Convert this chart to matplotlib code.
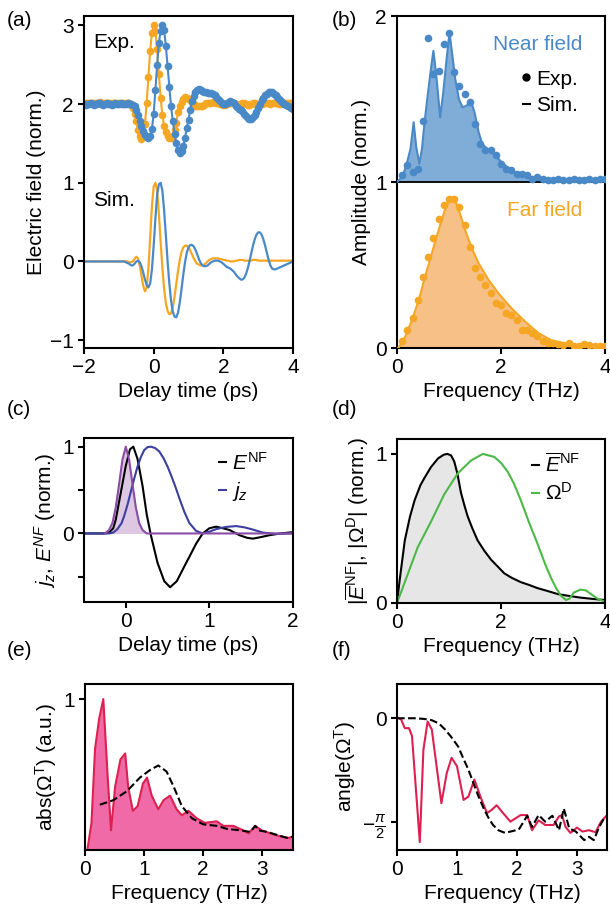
import matplotlib
matplotlib.use('Agg')
import matplotlib.pyplot as plt
import numpy as np
from matplotlib.lines import Line2D

plt.rcParams['font.family'] = ['Liberation Sans', 'DejaVu Sans']
plt.rcParams['font.size'] = 15
plt.rcParams['mathtext.fontset'] = 'custom'
plt.rcParams['mathtext.rm'] = 'Liberation Sans'
plt.rcParams['mathtext.it'] = 'Liberation Sans:italic'
plt.rcParams['axes.linewidth'] = 1.5
plt.rcParams['xtick.major.width'] = 1.5
plt.rcParams['ytick.major.width'] = 1.5
plt.rcParams['xtick.major.size'] = 4
plt.rcParams['ytick.major.size'] = 4
plt.rcParams['axes.labelpad'] = 3

ORANGE = '#f5a623'
BLUE = '#4a89c8'

# (a) time traces, 0.05 ps grid
t_a = np.round(np.arange(-2.0, 4.0001, 0.05), 2)
exp_far = [2.02, 2.01, 2.02, 2.02, 2.01, 2.02, 2.01, 2.02, 2.02, 2.03,
           2.02, 2.01, 2.02, 2.02, 2.01, 2.02, 2.02, 2.01, 2.02, 2.02,
           2.01, 2.02, 2.01, 2.02, 2.02, 2.01, 2.01, 1.99, 1.95, 1.88,
           1.78, 1.67, 1.59, 1.56, 1.60, 1.75, 2.02, 2.35, 2.68, 2.90,
           3.00, 2.93, 2.70, 2.38, 2.08, 1.86, 1.72, 1.64, 1.60, 1.57,
           1.57, 1.60, 1.67, 1.76, 1.90, 1.97, 2.03, 2.07, 2.09, 2.08,
           2.07, 2.05, 2.02, 2.00, 1.98, 1.98, 1.97, 1.98, 1.98, 1.99,
           2.01, 2.02, 2.02, 2.02, 2.03, 2.03, 2.02, 2.01, 2.00, 2.00,
           1.99, 1.99, 2.00, 2.01, 2.01, 2.02, 2.01, 2.00, 1.99, 1.99,
           2.00, 2.01, 2.01, 2.00, 1.99, 1.99, 2.00, 2.01, 2.01, 2.00,
           1.99, 1.99, 2.00, 2.01, 2.02, 2.02, 2.01, 2.00, 2.01, 2.02,
           2.02, 2.01, 2.00, 2.00, 2.01, 2.02, 2.02, 2.01, 2.01, 2.02,
           2.02]
exp_near = [2.00, 1.99, 2.00, 2.00, 2.01, 2.00, 1.99, 2.00, 2.01, 2.01,
            2.00, 1.99, 2.00, 2.01, 2.00, 2.00, 1.99, 2.00, 2.01, 2.00,
            2.00, 2.01, 2.00, 2.00, 2.00, 2.01, 2.00, 2.00, 1.99, 1.97,
            1.93, 1.86, 1.79, 1.72, 1.66, 1.61, 1.58, 1.57, 1.59, 1.68,
            1.88, 2.18, 2.50, 2.78, 2.93, 3.00, 2.94, 2.74, 2.48, 2.22,
            1.97, 1.78, 1.62, 1.50, 1.42, 1.38, 1.40, 1.47, 1.57, 1.70,
            1.80, 1.93, 2.04, 2.10, 2.15, 2.18, 2.19, 2.18, 2.17, 2.16,
            2.15, 2.14, 2.14, 2.14, 2.13, 2.11, 2.09, 2.07, 2.04, 2.02,
            2.00, 2.00, 2.02, 2.03, 2.04, 2.03, 2.01, 1.98, 1.96, 1.94,
            1.93, 1.91, 1.88, 1.85, 1.82, 1.81, 1.81, 1.83, 1.86, 1.90,
            1.95, 2.00, 2.05, 2.08, 2.11, 2.13, 2.15, 2.15, 2.15, 2.13,
            2.11, 2.09, 2.06, 2.04, 2.02, 2.00, 1.99, 1.97, 1.96, 1.95,
            1.94]
sim_far = [0.0] * 20 + [
    0.0, 0.0, 0.0, 0.0, 0.0, 0.0, -0.01, -0.01, 0.0, 0.03,
    0.06, 0.04, -0.05, -0.18, -0.31, -0.38, -0.33, -0.08, 0.30, 0.70,
    0.95, 1.00, 0.90, 0.60, 0.25, -0.08, -0.35, -0.53, -0.63, -0.67,
    -0.66, -0.58, -0.45, -0.28, -0.12, 0.02, 0.12, 0.18, 0.20, 0.20,
    0.18, 0.14, 0.09, 0.04, 0.00, -0.03, -0.04, -0.05, -0.05, -0.04,
    -0.02, 0.00, 0.02, 0.03, 0.04, 0.04, 0.04, 0.04, 0.03, 0.03,
    0.02, 0.02, 0.01, 0.01, 0.00, 0.00, 0.00, 0.01, 0.01, 0.02,
    0.02, 0.02, 0.01, 0.01, 0.01, 0.01, 0.01, 0.02, 0.02, 0.02,
    0.01, 0.01, 0.01, 0.01, 0.01, 0.01, 0.01, 0.01, 0.01, 0.01,
    0.01, 0.01, 0.01, 0.01, 0.01, 0.01, 0.01, 0.01, 0.01, 0.01,
    0.01]
sim_near = [0.0] * 20 + [
    0.0, 0.0, 0.0, 0.0, -0.01, -0.02, -0.03, -0.05, -0.05, -0.03,
    0.00, 0.01, -0.01, -0.06, -0.14, -0.23, -0.30, -0.33, -0.28, -0.10,
    0.20, 0.55, 0.85, 0.98, 1.00, 0.90, 0.65, 0.33, 0.00, -0.28,
    -0.50, -0.64, -0.70, -0.71, -0.65, -0.52, -0.35, -0.17, -0.01, 0.11,
    0.18, 0.21, 0.21, 0.19, 0.15, 0.09, 0.03, -0.02, -0.05, -0.06,
    -0.06, -0.05, -0.03, -0.01, 0.00, 0.01, 0.01, 0.01, 0.00, -0.01,
    -0.03, -0.05, -0.07, -0.08, -0.09, -0.11, -0.13, -0.16, -0.19, -0.21,
    -0.23, -0.23, -0.21, -0.16, -0.09, 0.00, 0.10, 0.20, 0.28, 0.34,
    0.37, 0.37, 0.34, 0.28, 0.20, 0.11, 0.02, -0.05, -0.09, -0.10,
    -0.10, -0.09, -0.08, -0.07, -0.06, -0.05, -0.04, -0.03, -0.02, -0.01,
    0.00]

# (b) spectra
f_exp = np.round(np.arange(0.1, 4.0001, 0.1), 1)
amp_near_exp = [1.04, 1.10, 1.06, 1.08, 1.37, 1.87, 1.65, 1.67, 1.83, 1.90,
                1.66, 1.58, 1.53, 1.48, 1.35, 1.23, 1.19, 1.19, 1.16, 1.11,
                1.08, 1.07, 1.05, 1.05, 1.04, 1.02, 1.03, 1.02, 1.01, 1.01,
                1.02, 1.01, 1.01, 1.02, 1.01, 1.01, 1.02, 1.01, 1.02, 1.02]
amp_far_exp = [0.04, 0.11, 0.18, 0.29, 0.43, 0.55, 0.66, 0.78, 0.86, 0.90,
               0.90, 0.85, 0.74, 0.61, 0.48, 0.43, 0.38, 0.33, 0.27, 0.26,
               0.21, 0.20, 0.17, 0.11, 0.11, 0.09, 0.07, 0.04, 0.03, 0.03,
               0.025, 0.02, 0.03, 0.015, 0.01, 0.025, 0.02, 0.015, 0.015, 0.015]
f_near_sim = [0.0, 0.1, 0.18, 0.26, 0.32, 0.37, 0.43, 0.48, 0.53, 0.59,
              0.66, 0.70, 0.75, 0.83, 0.89, 0.96, 1.01, 1.05, 1.12, 1.19,
              1.26, 1.34, 1.42, 1.49, 1.57, 1.64, 1.73, 1.82, 1.92, 2.04,
              2.2, 2.4, 2.72, 3.1, 4.0]
amp_near_sim = [1.0, 1.03, 1.10, 1.20, 1.36, 1.21, 1.11, 1.20, 1.36, 1.52,
                1.70, 1.79, 1.66, 1.39, 1.54, 1.76, 1.90, 1.80, 1.62, 1.50,
                1.45, 1.46, 1.49, 1.42, 1.30, 1.23, 1.20, 1.18, 1.15, 1.11,
                1.07, 1.04, 1.02, 1.01, 1.01]
f_far_sim = [0.0, 0.03, 0.16, 0.29, 0.42, 0.54, 0.67, 0.8, 0.93, 1.02,
             1.07, 1.12, 1.21, 1.31, 1.44, 1.57, 1.76, 1.95, 2.2, 2.46,
             2.72, 2.97, 3.35, 4.0]
amp_far_sim = [0.0, 0.0, 0.07, 0.17, 0.29, 0.43, 0.57, 0.71, 0.84, 0.90,
               0.91, 0.89, 0.81, 0.71, 0.60, 0.51, 0.41, 0.33, 0.24, 0.16,
               0.09, 0.046, 0.02, 0.01]

# (c) source current and near field
t_enf = [-0.5, -0.25, -0.2, -0.15, -0.12, -0.06, 0.0, 0.05, 0.09, 0.14,
         0.2, 0.25, 0.3, 0.38, 0.46, 0.53, 0.61, 0.7, 0.76, 0.84,
         0.92, 1.0, 1.08, 1.16, 1.24, 1.36, 1.45, 1.52, 1.6, 1.72,
         1.85, 2.0]
enf = [0.0, 0.0, 0.01, 0.06, 0.16, 0.47, 0.78, 0.97, 1.0, 0.86,
       0.55, 0.22, -0.02, -0.34, -0.55, -0.62, -0.55, -0.38, -0.27, -0.12,
       0.0, 0.06, 0.078, 0.06, 0.04, -0.02, -0.05, -0.06, -0.045, -0.02,
       0.0, 0.015]
t_jz = [-0.5, -0.2, -0.15, -0.1, -0.05, -0.02, 0.02, 0.06, 0.1, 0.14,
        0.18, 0.22, 0.26, 0.3, 0.35, 0.4, 0.45, 0.5, 0.55, 0.6,
        0.65, 0.7, 0.76, 0.84, 0.92, 1.0, 1.08, 1.2, 1.32, 1.42,
        1.5, 1.64, 1.8, 2.0]
jz = [0.0, 0.0, 0.01, 0.05, 0.12, 0.2, 0.33, 0.48, 0.63, 0.77,
      0.88, 0.96, 0.995, 1.0, 0.985, 0.945, 0.87, 0.77, 0.65, 0.52,
      0.38, 0.25, 0.12, 0.03, 0.0, 0.02, 0.05, 0.075, 0.085, 0.07,
      0.05, 0.01, -0.005, 0.0]
t_src = [-0.25, -0.2, -0.16, -0.12, -0.08, -0.04, 0.0, 0.04, 0.08, 0.12,
         0.16, 0.2, 0.25, 2.0]
src = [0.0, 0.04, 0.12, 0.3, 0.57, 0.85, 1.0, 0.85, 0.57, 0.3,
       0.12, 0.04, 0.0, 0.0]

# (d) spectra of near field and dipole term
f_d_enf = [0, 0.05, 0.15, 0.25, 0.34, 0.45, 0.53, 0.65, 0.79, 0.9,
           0.97, 1.04, 1.1, 1.16, 1.23, 1.3, 1.36, 1.45, 1.55, 1.68,
           1.81, 1.95, 2.06, 2.2, 2.38, 2.55, 2.7, 2.9, 3.09, 3.3,
           3.53, 3.75, 4.0]
d_enf = [0, 0.15, 0.42, 0.58, 0.69, 0.79, 0.84, 0.91, 0.97, 0.995,
         1.0, 0.99, 0.95, 0.87, 0.74, 0.65, 0.58, 0.5, 0.42, 0.35,
         0.29, 0.24, 0.2, 0.17, 0.14, 0.12, 0.1, 0.08, 0.06, 0.048,
         0.036, 0.028, 0.02]
f_d_om = [0, 0.15, 0.4, 0.66, 0.91, 1.17, 1.42, 1.65, 1.87, 2.0,
          2.13, 2.25, 2.38, 2.55, 2.7, 2.85, 2.96, 3.06, 3.15, 3.25,
          3.32, 3.4, 3.53, 3.63, 3.73, 3.85, 3.92, 4.0]
d_om = [0, 0.14, 0.375, 0.55, 0.73, 0.87, 0.955, 1.0, 0.98, 0.94,
        0.88, 0.8, 0.69, 0.53, 0.40, 0.26, 0.17, 0.1, 0.05, 0.02,
        0.03, 0.07, 0.09, 0.085, 0.06, 0.03, 0.02, 0.01]

# (e) abs of transfer function
f_e = [0.04, 0.11, 0.17, 0.24, 0.31, 0.38, 0.44, 0.51, 0.6, 0.68,
       0.73, 0.81, 0.89, 0.98, 1.05, 1.13, 1.24, 1.33, 1.44, 1.55,
       1.64, 1.75, 1.89, 2.03, 2.23, 2.34, 2.51, 2.68, 2.77, 2.88,
       2.99, 3.14, 3.31, 3.45, 3.53]
abs_meas = [0.0, 0.18, 0.67, 0.87, 1.0, 0.51, 0.13, 0.42, 0.6, 0.64,
            0.42, 0.26, 0.29, 0.44, 0.48, 0.36, 0.27, 0.33, 0.36, 0.27,
            0.23, 0.26, 0.21, 0.18, 0.19, 0.16, 0.16, 0.13, 0.11, 0.16,
            0.13, 0.11, 0.09, 0.08, 0.09]
f_e_model = [0.25, 0.48, 0.71, 0.93, 1.1, 1.24, 1.38, 1.5, 1.64, 1.81,
             2.0, 2.23, 2.4, 2.63, 2.8, 2.88, 2.94, 3.08, 3.25, 3.42,
             3.53]
abs_model = [0.30, 0.33, 0.39, 0.48, 0.53, 0.56, 0.52, 0.42, 0.29, 0.21,
             0.17, 0.16, 0.14, 0.13, 0.12, 0.16, 0.13, 0.12, 0.10, 0.08,
             0.09]

# (f) phase of transfer function
f_f = [0.03, 0.07, 0.13, 0.2, 0.25, 0.38, 0.44, 0.51, 0.58, 0.66,
       0.74, 0.83, 0.91, 1.0, 1.11, 1.19, 1.29, 1.39, 1.5, 1.58,
       1.66, 1.75, 1.89, 2.06, 2.17, 2.25, 2.36, 2.47, 2.61, 2.7,
       2.75, 2.81, 2.89, 3.0, 3.09, 3.2, 3.31, 3.4, 3.48]
ang_meas = [0, -0.02, -0.15, -0.15, -0.27, -1.88, -0.48, -0.05, -0.17, -0.73,
            -1.29, -0.83, -0.6, -0.73, -1.24, -1.19, -0.93, -1.19, -1.44, -1.39,
            -1.32, -1.42, -1.57, -1.47, -1.47, -1.70, -1.55, -1.62, -1.62, -1.49,
            -1.47, -1.65, -1.74, -1.66, -1.72, -1.70, -1.73, -1.57, -1.49]
f_f_model = [0, 0.3, 0.45, 0.58, 0.7, 0.8, 0.9, 1.02, 1.1, 1.19,
             1.28, 1.36, 1.45, 1.53, 1.6, 1.69, 1.8, 2.03, 2.17, 2.25,
             2.36, 2.47, 2.59, 2.7, 2.78, 2.87, 2.98, 3.12, 3.2, 3.28,
             3.37, 3.47]
ang_model = [0, 0, -0.01, -0.03, -0.08, -0.17, -0.28, -0.43, -0.6, -0.78,
             -1.0, -1.19, -1.38, -1.52, -1.62, -1.70, -1.74, -1.69, -1.48, -1.65,
             -1.47, -1.57, -1.48, -1.70, -1.37, -1.67, -1.72, -1.85, -1.80, -1.85,
             -1.65, -1.49]


def box(fig, l, t, r, b):
    W, H = 610, 911
    return fig.add_axes([l / W, 1 - b / H, (r - l) / W, (b - t) / H])


fig = plt.figure(figsize=(6.1, 9.11), dpi=100)

# (a)
ax = box(fig, 84, 16, 293, 348)
ax.plot(t_a, exp_far, '-o', color=ORANGE, lw=1.5, ms=5.5, mew=0)
ax.plot(t_a, exp_near, '-o', color=BLUE, lw=1.5, ms=5.5, mew=0)
ax.plot(t_a, sim_far, color=ORANGE, lw=1.6)
ax.plot(t_a, sim_near, color=BLUE, lw=1.6)
ax.set_xlim(-2, 4)
ax.set_ylim(-1.1, 3.12)
ax.set_xticks([-2, 0, 2, 4])
ax.set_yticks([-1, 0, 1, 2, 3])
ax.set_xlabel('Delay time (ps)')
ax.set_ylabel('Electric field (norm.)')
ax.text(0.045, 0.92, 'Exp.', transform=ax.transAxes, va='center')
ax.text(0.045, 0.445, 'Sim.', transform=ax.transAxes, va='center')

# (b)
ax = box(fig, 397, 16, 605, 348)
ax.fill_between(f_near_sim, 1, amp_near_sim, color=BLUE, alpha=0.7, lw=0)
ax.fill_between(f_far_sim, 0, amp_far_sim, color='#f7b97a', alpha=0.9, lw=0)
ax.axhline(1, color='k', lw=1.3, zorder=2)
ax.plot(f_near_sim, amp_near_sim, color=BLUE, lw=1.5, zorder=3)
ax.plot(f_far_sim, amp_far_sim, color=ORANGE, lw=1.5, zorder=3)
ax.plot(f_exp, amp_near_exp, 'o', color=BLUE, ms=5.5, mew=0, zorder=4)
ax.plot(f_exp, amp_far_exp, 'o', color=ORANGE, ms=5.5, mew=0, zorder=4)
ax.set_xlim(0, 4)
ax.set_ylim(0, 2)
ax.set_xticks([0, 2, 4])
ax.set_yticks([0, 1, 2])
ax.set_xlabel('Frequency (THz)')
ax.set_ylabel('Amplitude (norm.)')
ax.text(0.89, 0.915, 'Near field', color=BLUE, ha='right', va='center',
        transform=ax.transAxes)
ax.text(0.89, 0.415, 'Far field', color=ORANGE, ha='right', va='center',
        transform=ax.transAxes)
handles = [Line2D([], [], marker='o', ls='none', color='k', ms=5),
           Line2D([], [], color='k', lw=1.5)]
ax.legend(handles, ['Exp.', 'Sim.'], loc='upper right', frameon=False,
          bbox_to_anchor=(0.92, 0.87), handlelength=0.35, handletextpad=0.3,
          labelspacing=0.35, borderpad=0)

# (c)
ax = box(fig, 84, 438, 293, 602)
ax.fill_between(t_src, 0, src, color='#c9a3cf', alpha=0.6, lw=0)
ax.plot(t_enf, enf, color='k', lw=1.5, label=r'$E^{\rm NF}$')
ax.plot(t_jz, jz, color='#3a3fa0', lw=1.5, label=r'$j_z$')
ax.plot(t_src, src, color='#8a4ca6', lw=1.5)
ax.set_xlim(-0.5, 2)
ax.set_ylim(-0.79, 1.1)
ax.set_xticks([0, 1, 2])
ax.set_yticks([-0.5, 0, 0.5, 1])
ax.set_yticklabels(['', '0', '', '1'])
ax.set_xlabel('Delay time (ps)')
ax.set_ylabel(r'$j_z$, $E^{NF}$ (norm.)')
ax.legend(loc='upper right', frameon=False, bbox_to_anchor=(0.93, 0.98),
          handlelength=0.3, handletextpad=0.3, labelspacing=0.3, borderpad=0)

# (d)
ax = box(fig, 397, 439, 605, 603)
ax.fill_between(f_d_enf, 0, d_enf, color='#e6e6e6', lw=0)
ax.plot(f_d_enf, d_enf, color='k', lw=1.5, label=r'$\overline{E}^{\rm NF}$')
ax.plot(f_d_om, d_om, color='#4cb848', lw=1.5, label=r'$\Omega^{\rm D}$')
ax.set_xlim(0, 4)
ax.set_ylim(0, 1.1)
ax.set_xticks([0, 2, 4])
ax.set_yticks([0, 1])
ax.set_xlabel('Frequency (THz)')
ax.set_ylabel(r'$|\overline{E}^{\rm NF}|$, $|\Omega^{\rm D}|$ (norm.)')
ax.legend(loc='upper right', frameon=False, bbox_to_anchor=(0.93, 0.98),
          handlelength=0.3, handletextpad=0.3, labelspacing=0.3, borderpad=0)

# (e)
ax = box(fig, 85, 684, 293, 850)
ax.fill_between(f_e, 0, abs_meas, color='#ef6aa6', lw=0)
ax.plot(f_e, abs_meas, color='#dc2050', lw=1.5)
ax.plot(f_e_model, abs_model, '--', color='k', lw=1.5)
ax.set_xlim(0, 3.52)
ax.set_ylim(0, 1.1)
ax.set_xticks([0, 1, 2, 3])
ax.set_yticks([1])
ax.set_xlabel('Frequency (THz)')
ax.set_ylabel(r'abs($\Omega^{\rm T}$) (a.u.)')

# (f)
ax = box(fig, 397, 684, 607, 850)
ax.plot(f_f, ang_meas, color='#dc2050', lw=1.5)
ax.plot(f_f_model, ang_model, '--', color='k', lw=1.5)
ax.set_xlim(0, 3.5)
ax.set_ylim(-2.0, 0.52)
ax.set_xticks([0, 1, 2, 3])
ax.set_yticks([-np.pi / 2, 0])
ax.set_yticklabels([r'$-\frac{\pi}{2}$', '0'])
ax.set_xlabel('Frequency (THz)')
ax.set_ylabel(r'angle($\Omega^{\rm T}$)')

for lab, x, y in [('(a)', 7, 11), ('(b)', 332, 11), ('(c)', 7, 400),
                  ('(d)', 332, 400), ('(e)', 7, 641), ('(f)', 332, 641)]:
    fig.text(x / 610, 1 - y / 911, lab, va='top', ha='left')

fig.savefig('out.png', dpi=100)
